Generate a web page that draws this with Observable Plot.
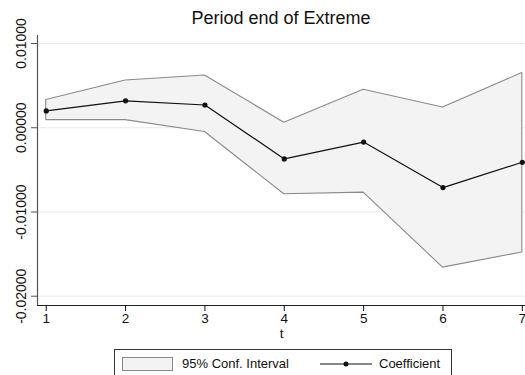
<!DOCTYPE html>
<html>
<head>
<meta charset="utf-8">
<script src="https://cdn.jsdelivr.net/npm/d3@7"></script>
<script src="https://cdn.jsdelivr.net/npm/@observablehq/plot@0.6"></script>
<style>
  html, body { margin: 0; padding: 0; background: #fff; }
  #wrap { position: relative; width: 525px; height: 375px; overflow: hidden; font-family: "Liberation Sans", Arial, sans-serif; }
  #title { position: absolute; left: 37px; width: 488px; top: 8px; text-align: center; font-size: 18px; color: #111; z-index: 2; }
  #chart { position: absolute; left: 0; top: 0; }
  #legend { position: absolute; left: 114px; top: 349px; width: 338px; height: 30px; border: 1px solid #333; box-sizing: border-box; background: #fff; font-size: 13px; color: #111; }
  .sw { position: absolute; left: 7px; top: 7px; width: 51px; height: 14px; border: 1px solid #888; box-sizing: border-box; background: #f3f3f3; }
  .lab { position: absolute; top: 6px; white-space: nowrap; }
</style>
</head>
<body>
<div id="wrap">
  <div id="chart"></div>
  <div id="title">Period end of Extreme</div>
  <div id="legend">
    <div class="sw"></div>
    <div class="lab" style="left:67px">95% Conf. Interval</div>
    <svg style="position:absolute;left:204px;top:8px" width="54" height="12">
      <line x1="1" y1="6" x2="53" y2="6" stroke="#111" stroke-width="1.2"></line>
      <circle cx="27" cy="6" r="2.5" fill="#111"></circle>
    </svg>
    <div class="lab" style="left:264px">Coefficient</div>
  </div>
</div>
<script>
const periods = [1, 2, 3, 4, 5, 6, 7];
const coefficient = [0.0020, 0.0032, 0.0027, -0.0037, -0.0017, -0.0071, -0.0041];
const upper = [0.0033, 0.0056, 0.0062, 0.0006, 0.0045, 0.0024, 0.0065];
const lower = [0.0009, 0.0009, -0.0005, -0.0079, -0.0077, -0.0166, -0.0148];
const yTicks = [-0.02, -0.01, 0, 0.01];
const xTicks = [1, 2, 3, 4, 5, 6, 7];

const data = periods.map((t, i) => ({t, b: coefficient[i], hi: upper[i], lo: lower[i]}));
const xDomain = [0.89, 7.04];
const yDomain = [-0.0211, 0.01095];

const chart = Plot.plot({
  width: 525,
  height: 340,
  marginTop: 35,
  marginBottom: 35,
  marginLeft: 37,
  marginRight: 0,
  style: {fontFamily: "'Liberation Sans', Arial, sans-serif", fontSize: "13px", color: "#111", background: "transparent"},
  x: {domain: xDomain},
  y: {domain: yDomain},
  marks: [
    Plot.ruleY(yTicks, {stroke: "#e9e9e9", strokeWidth: 1}),
    Plot.areaY(data, {x: "t", y1: "lo", y2: "hi", fill: "#f3f3f3", stroke: "#8a8a8a", strokeWidth: 1.1}),
    Plot.line(data, {x: "t", y: "b", stroke: "#111", strokeWidth: 1.2}),
    Plot.dot(data, {x: "t", y: "b", r: 2.6, fill: "#111"}),
    Plot.ruleX([xDomain[0]], {stroke: "#555", strokeWidth: 1.2}),
    Plot.ruleY([yDomain[0]], {stroke: "#222", strokeWidth: 1.2}),
    Plot.axisY(yTicks, {tickFormat: d => d.toFixed(5), tickSize: 6, tickPadding: 6, tickRotate: -90, label: null, stroke: "#555", fontSize: 14}),
    Plot.axisX(xTicks, {tickFormat: d => String(d), tickSize: 6, tickPadding: 2, label: null, fontSize: 13.5}),
    Plot.axisX({ticks: [], label: "t", labelAnchor: "center", labelOffset: 32, labelArrow: "none", fontSize: 13.5})
  ]
});
document.getElementById("chart").appendChild(chart);
</script>
</body>
</html>
